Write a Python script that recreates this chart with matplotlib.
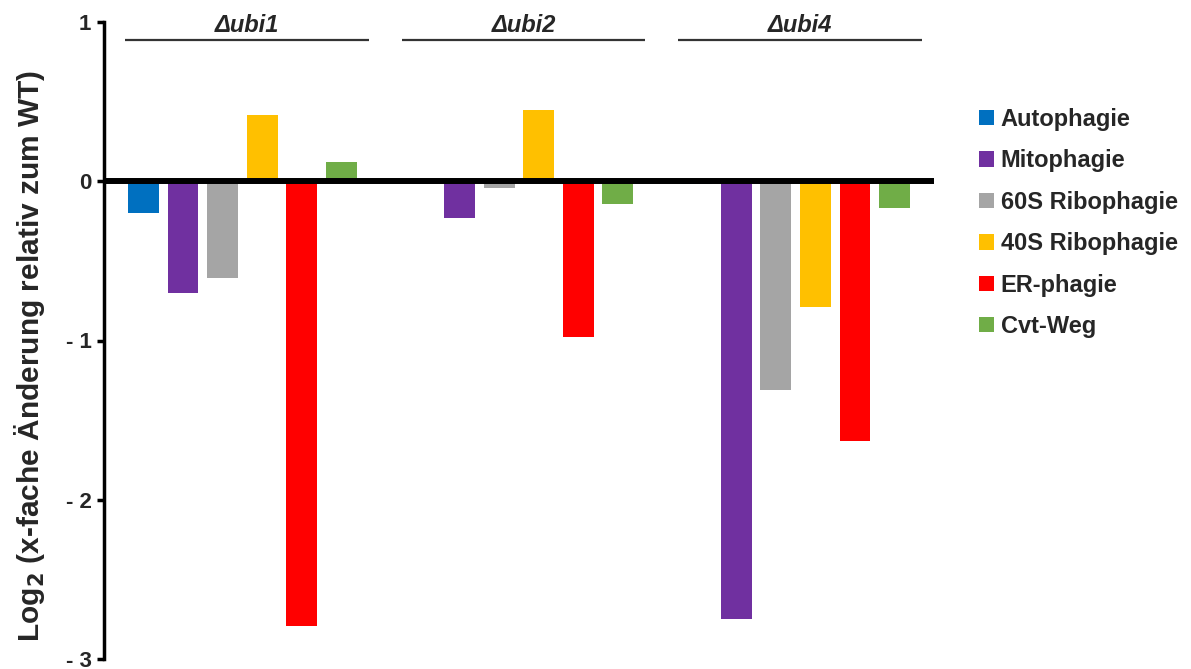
import matplotlib
matplotlib.use("Agg")
import matplotlib.pyplot as plt
from matplotlib.patches import Patch
import numpy as np

plt.rcParams['font.family'] = ['Liberation Sans', 'DejaVu Sans']
plt.rcParams['font.weight'] = 'bold'

# Strains (groups) and autophagy pathways (series)
strains = ["Δubi1", "Δubi2", "Δubi4"]
pathways = ["Autophagie", "Mitophagie", "60S Ribophagie",
            "40S Ribophagie", "ER-phagie", "Cvt-Weg"]

# Log2 fold change relative to WT, one value per strain
autophagie = [-0.20, 0.00, -0.02]
mitophagie = [-0.70, -0.23, -2.75]
ribophagie_60s = [-0.61, -0.04, -1.31]
ribophagie_40s = [0.415, 0.445, -0.79]
er_phagie = [-2.79, -0.98, -1.63]
cvt_weg = [0.12, -0.14, -0.17]

series = [autophagie, mitophagie, ribophagie_60s,
          ribophagie_40s, er_phagie, cvt_weg]
colors = ["#0070C0", "#7030A0", "#A5A5A5", "#FFC000", "#FF0000", "#70AD47"]

yticks = [1, 0, -1, -2, -3]
ytick_labels = ["1", "0", "- 1", "- 2", "- 3"]

text_color = "#262626"

fig = plt.figure(figsize=(11.91, 6.69), dpi=100)
ax = fig.add_axes([104 / 1191, 1 - 659 / 669, (934 - 104) / 1191, (659 - 22) / 669])

group_step = len(pathways) + 1
bar_width = 0.78
for i, (vals, col) in enumerate(zip(series, colors)):
    x = np.arange(len(strains)) * group_step + i
    ax.bar(x, vals, width=bar_width, color=col, zorder=2, linewidth=0)

ax.axhline(0, color="black", lw=4.3, zorder=3)

ax.set_xlim(-1, 20)
ax.set_ylim(-3, 1)
ax.set_yticks(yticks)
ax.set_yticklabels(ytick_labels, fontsize=16, fontweight='bold', color=text_color)
ax.tick_params(axis='y', length=5, width=2.5, pad=4, colors='black', labelcolor=text_color)
ax.set_xticks([])
for side in ("top", "right", "bottom"):
    ax.spines[side].set_visible(False)
ax.spines["left"].set_linewidth(2.5)

# Group titles with underline
for g, name in enumerate(strains):
    x0 = g * group_step - 0.47
    x1 = g * group_step + 5.7
    ax.plot([x0, x1], [0.887, 0.887], color="#333333", lw=1.6,
            clip_on=False, zorder=4, solid_capstyle='butt')
    ax.text((x0 + x1) / 2, 0.905, name, ha="center", va="bottom",
            fontsize=17, fontweight="bold", fontstyle="italic", color=text_color)

fig.text(30 / 1191, 1 - 356 / 669, "Log$_\\mathbf{2}$ (x-fache Änderung relativ zum WT)",
         rotation=90, ha="center", va="center", fontsize=21.5,
         fontweight="bold", color=text_color)

handles = [Patch(facecolor=c, edgecolor='none') for c in colors]
leg = fig.legend(handles, pathways, loc="upper left",
                 bbox_to_anchor=(979 / 1191, 1 - 108 / 669),
                 frameon=False, fontsize=17, borderpad=0, borderaxespad=0,
                 handlelength=0.62, handleheight=0.62, handletextpad=0.3,
                 labelspacing=0.78)
for t in leg.get_texts():
    t.set_fontweight("bold")
    t.set_color(text_color)

fig.savefig("out.png", dpi=100)
